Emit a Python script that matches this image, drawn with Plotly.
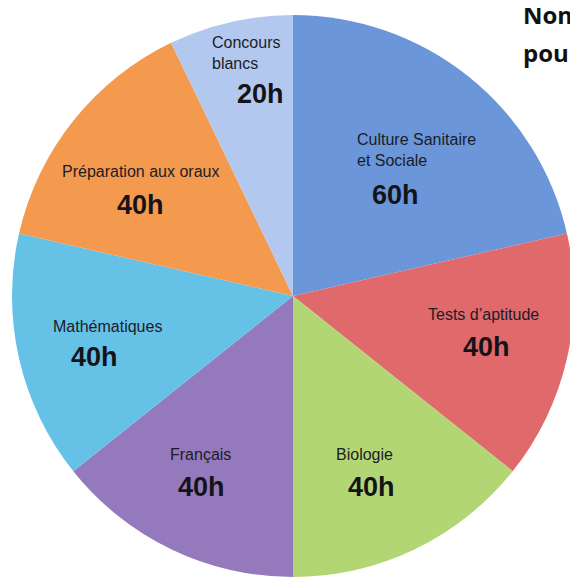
import plotly.graph_objects as go

# ---- data ----
categories = ["Culture Sanitaire<br>et Sociale", "Tests d’aptitude", "Biologie", "Français",
              "Mathématiques", "Préparation aux oraux", "Concours<br>blancs"]
hours = [60, 40, 40, 40, 40, 40, 20]
value_labels = ["60h", "40h", "40h", "40h", "40h", "40h", "20h"]
colors = ["#6b96da", "#e06a6b", "#b3d675", "#9479bd", "#66c1e6", "#f39a4f", "#b3c8ee"]
title_lines = ["Nombre", "pour"]

OFF = 8  # page body margin
W, H = 578 - OFF, 577 - OFF


def px(x):
    return (x - OFF) / W


def py(y):
    return 1 - (y - OFF) / H


# pie centre (293, 296) and radius 281 in window pixels
cx, cy, r = 293 - OFF, 296 - OFF, 281
fig = go.Figure(go.Pie(
    labels=[c.replace("<br>", " ") for c in categories],
    values=hours,
    sort=False,
    direction="clockwise",
    rotation=0,
    marker=dict(colors=colors, line=dict(width=0)),
    textinfo="none",
    hoverinfo="label+value",
    showlegend=False,
    domain=dict(x=[max(0, (cx - r) / W), min(1, (cx + r) / W)],
                y=[max(0, (H - cy - r) / H), min(1, (H - cy + r) / H)]),
))

# label placement (window-pixel positions of label centres)
name_pos = [(355, 150, "left"), (483, 314, "center"), (364, 454, "center"), (200, 454, "center"),
            (107, 326, "center"), (140, 172, "center"), (210, 53, "left")]
val_pos = [(395, 195), (487, 347), (371, 487), (201, 487), (94, 357), (140, 205), (260, 94)]

ann = []
for name, (nx, ny, al), vl, (vx, vy) in zip(categories, name_pos, value_labels, val_pos):
    ann.append(dict(x=px(nx), y=py(ny), xref="paper", yref="paper", text=name,
                    showarrow=False, xanchor=al, yanchor="middle", align="left",
                    font=dict(family="Liberation Sans, Arial", size=16, color="#1c1c28")))
    ann.append(dict(x=px(vx), y=py(vy), xref="paper", yref="paper", text="<b>%s</b>" % vl,
                    showarrow=False, xanchor="center", yanchor="middle",
                    font=dict(family="Liberation Sans, Arial", size=27, color="#141418")))

for i, t in enumerate(title_lines):
    ann.append(dict(x=px(521), y=py(14 + 39 * i), xref="paper", yref="paper",
                    text="<b>%s</b>" % t, showarrow=False, xanchor="left", yanchor="middle",
                    font=dict(family="Open Sans", size=24, color="#111111")))

fig.update_layout(
    width=W, height=H,
    margin=dict(l=0, r=0, t=0, b=0),
    paper_bgcolor="white", plot_bgcolor="white",
    annotations=ann,
)

fig.write_html("out.html")
